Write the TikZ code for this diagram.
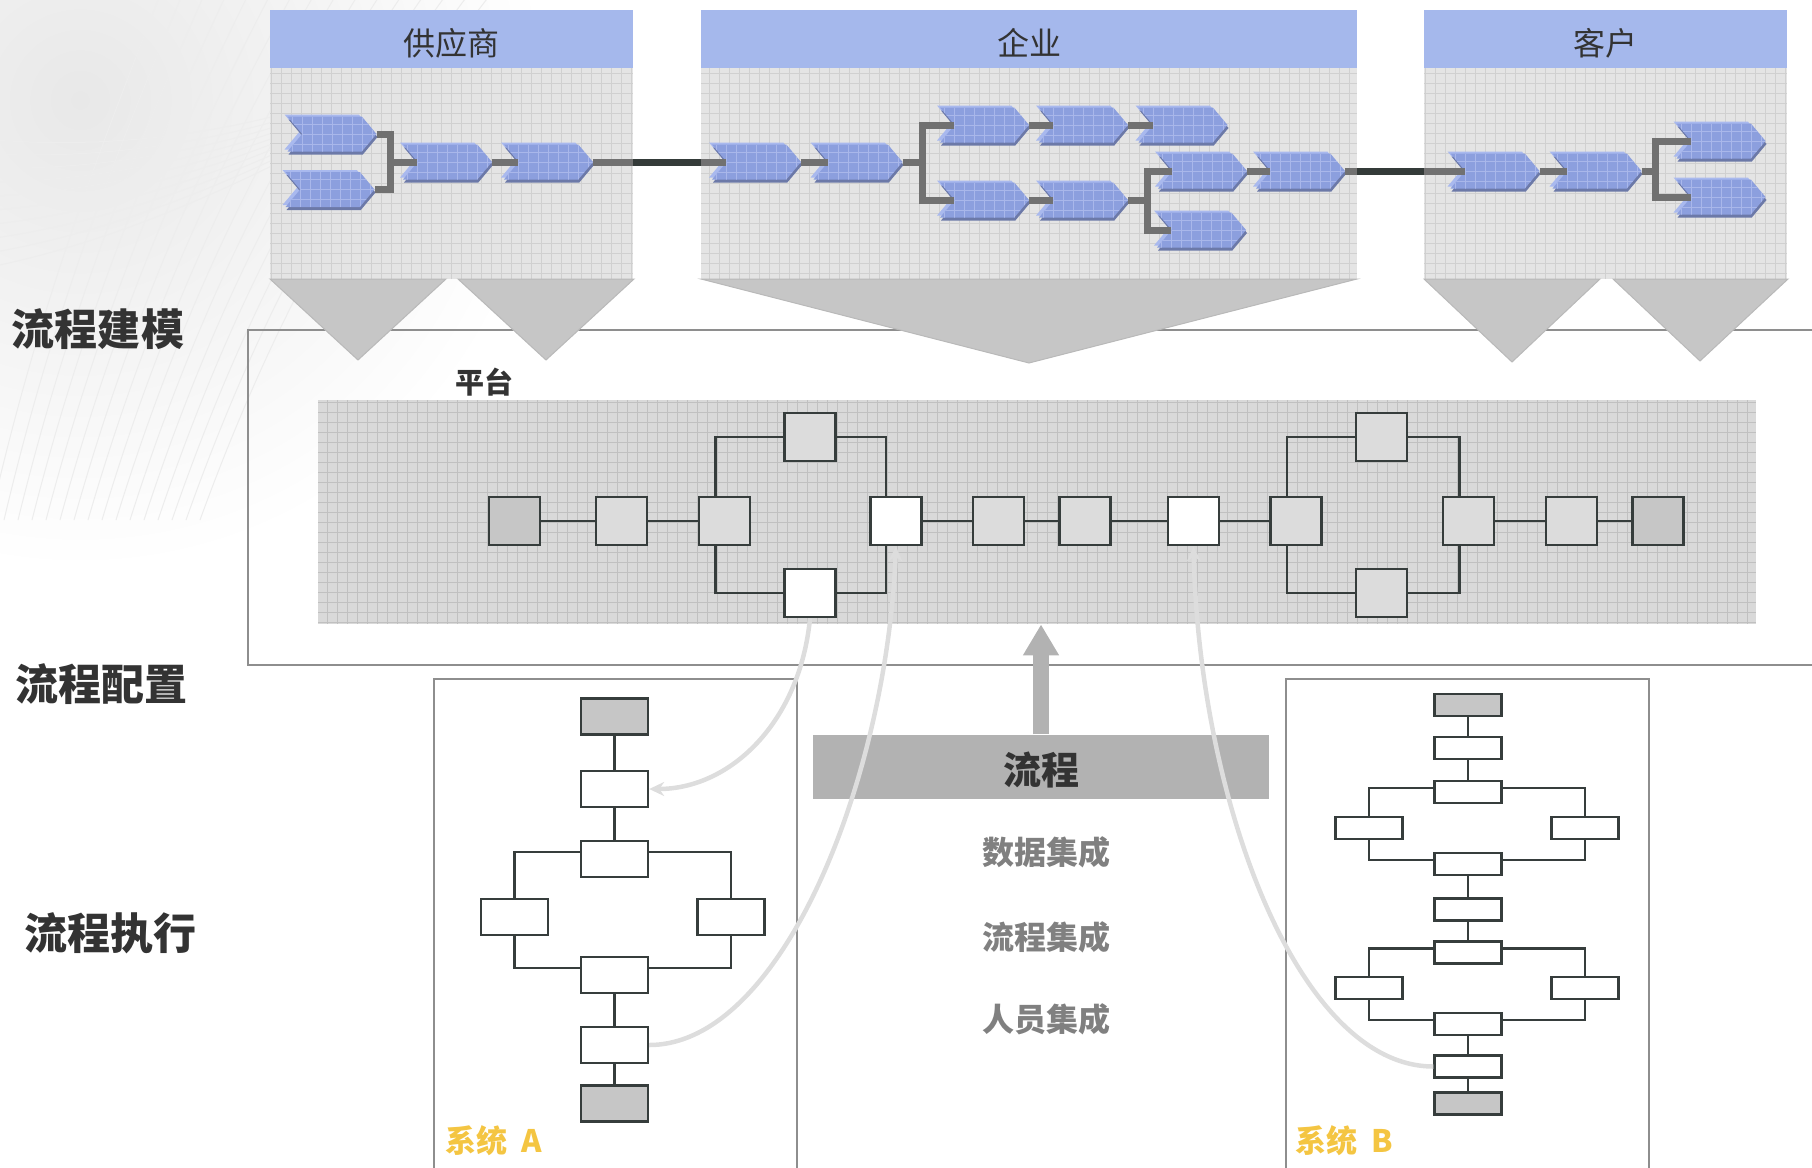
\documentclass[tikz,border=0pt]{standalone}
\usepackage{fontspec}
\newfontfamily\cjk{Noto Sans CJK SC}
\usetikzlibrary{arrows.meta,positioning,shapes.symbols,shadows,calc}

\definecolor{headblue}{HTML}{A5B8EC}
\definecolor{panelgray}{HTML}{E4E4E4}
\definecolor{panelline}{HTML}{D0D0D0}
\definecolor{funnelgray}{HTML}{C6C6C6}
\definecolor{funneledge}{HTML}{B9B9B9}
\definecolor{chevblue}{HTML}{8C9FDE}
\definecolor{chevline}{HTML}{A9B7EA}
\definecolor{chevlight}{HTML}{A9B9EE}
\definecolor{chevdark}{HTML}{6C79A8}
\definecolor{conngray}{HTML}{717171}
\definecolor{bridgedark}{HTML}{343B39}
\definecolor{gridfill}{HTML}{D9D9D9}
\definecolor{gridline}{HTML}{C0C0C0}
\definecolor{framegray}{HTML}{8E8E8E}
\definecolor{inkline}{HTML}{363D3C}
\definecolor{boxfill}{HTML}{DCDCDC}
\definecolor{boxgray}{HTML}{C6C6C6}
\definecolor{feedgray}{HTML}{DDDDDD}
\definecolor{bargray}{HTML}{B2B2B2}
\definecolor{sysyellow}{HTML}{F4C542}
\definecolor{midgray}{HTML}{808080}
\definecolor{inkdark}{HTML}{333333}

\begin{document}
\begin{tikzpicture}[
    x=1pt, y=-1pt,
    >=Stealth,
    line join=miter,
    header/.style={
        fill=headblue,
        minimum height=58pt,
        anchor=north west,
        inner sep=0
    },
    headtext/.style={yshift=-4pt, text=inkdark, font=\cjk\fontsize{32}{36}\selectfont},
    panelbody/.style={
        fill=panelgray,
        minimum height=211pt,
        anchor=north west,
        inner sep=0,
        path picture={\draw[panelline, line width=0.8pt, step=10pt]
            (path picture bounding box.south west) grid (path picture bounding box.north east);}
    },
    funnel/.style={fill=funnelgray, draw=funneledge, line width=1pt},
    stage/.style={
        signal,
        signal to=east,
        signal from=west,
        signal pointer angle=100,
        minimum width=89pt,
        minimum height=35pt,
        inner sep=0,
        fill=chevblue,
        copy shadow={shadow xshift=-3pt, shadow yshift=2pt, fill=chevlight, draw=none},
        copy shadow={shadow xshift=1pt, shadow yshift=-3pt, fill=chevdark, draw=none},
        path picture={\draw[chevline, line width=0.9pt, step=10pt]
            (path picture bounding box.south west) grid (path picture bounding box.north east);}
    },
    conn/.style={draw=conngray, line width=7pt},
    bridge/.style={draw=bridgedark, line width=7pt},
    frame/.style={draw=framegray, line width=2pt, anchor=north west, inner sep=0},
    pgridbox/.style={
        fill=gridfill,
        anchor=north west,
        inner sep=0,
        path picture={\draw[gridline, line width=0.8pt, step=10pt]
            (path picture bounding box.south west) grid (path picture bounding box.north east);}
    },
    pbox/.style={
        draw=inkline,
        line width=2.8pt,
        fill=boxfill,
        minimum width=51pt,
        minimum height=48pt,
        inner sep=0
    },
    pend/.style={pbox, fill=boxgray},
    pnew/.style={pbox, fill=white},
    link/.style={draw=inkline, line width=2.4pt},
    sbox/.style={
        draw=inkline,
        line width=2.3pt,
        fill=white,
        minimum width=67pt,
        minimum height=36pt,
        inner sep=0
    },
    sboxgray/.style={sbox, fill=boxgray},
    tbox/.style={sbox, minimum height=22pt},
    tboxgray/.style={tbox, fill=boxgray},
    slink/.style={draw=inkline, line width=2.3pt},
    feed/.style={draw=feedgray, line width=4.5pt},
    feedtip/.tip={Stealth[length=15pt, width=14pt]},
    lift/.style={draw=bargray, line width=16pt, -{Triangle[length=31pt, width=34pt]}},
    flowbar/.style={
        fill=bargray,
        minimum width=456pt,
        minimum height=64pt,
        inner sep=0
    },
    bartext/.style={yshift=-3.5pt, text=inkdark, font=\cjk\bfseries\fontsize{38}{42}\selectfont},
    sidelabel/.style={text=inkdark, font=\cjk\bfseries\fontsize{43}{48}\selectfont},
    platlabel/.style={text=inkdark, font=\cjk\bfseries\fontsize{29}{32}\selectfont},
    intlabel/.style={text=midgray, font=\cjk\bfseries\fontsize{32}{36}\selectfont},
    syslabel/.style={text=sysyellow, anchor=west, inner sep=0, font=\cjk\bfseries\fontsize{31}{34}\selectfont},
    wisp/.style={draw=black!7, line width=1pt}
]
\useasboundingbox (0,0) rectangle (1812,1167);
\clip (0,0) rectangle (1812,1167);

% =========================
% Backdrop
% =========================
\shade[inner color=black!9, outer color=white] (80,100) circle (470);
\foreach \k in {0,...,15}
    \draw[wisp] (\k*14-10,520) .. controls (\k*16+40,300) and (\k*18+100,150) .. (\k*22+160,-5);
\foreach \k in {0,...,9}
    \draw[wisp] (-5,140+\k*14) .. controls (120,150+\k*10) and (240,130+\k*6) .. (330,100+\k*4);

% =========================
% Platform frame
% =========================
\node[frame, minimum width=1600pt, minimum height=335pt] (platbox) at (247,329) {};

% =========================
% Modelling panels
% =========================
\node[header, minimum width=363pt, label={[headtext]center:供应商}] (suphead) at (270,10) {};
\node[panelbody, minimum width=363pt] (supbody) at (270,68) {};
\node[header, minimum width=656pt, label={[headtext]center:企业}] (enthead) at (701,10) {};
\node[panelbody, minimum width=656pt] (entbody) at (701,68) {};
\node[header, minimum width=363pt, label={[headtext]center:客户}] (cushead) at (1424,10) {};
\node[panelbody, minimum width=363pt] (cusbody) at (1424,68) {};

\fill[funnel] (270,279) -- (446,279) -- (358,360) -- cycle;
\fill[funnel] (458,279) -- (634,279) -- (546,360) -- cycle;
\fill[funnel] (701,279) -- (1357,279) -- (1029,363) -- cycle;
\fill[funnel] (1424,279) -- (1600,279) -- (1512,362) -- cycle;
\fill[funnel] (1613,279) -- (1788,279) -- (1700,361) -- cycle;

% supplier stages
\node[stage] (s1) at (332,134) {};
\node[stage] (s2) at (330,189.5) {};
\node[stage] (s3) at (447.5,162) {};
\node[stage] (s4) at (548.5,162) {};
\coordinate (sj) at (390,162);

% enterprise stages
\node[stage] (e1) at (756.5,162) {};
\node[stage] (e2) at (858,162) {};
\node[stage] (e3) at (984.5,125) {};
\node[stage] (e4) at (1083.5,125) {};
\node[stage] (e5) at (1183,125) {};
\node[stage] (e6) at (984.5,200) {};
\node[stage] (e7) at (1083.5,200) {};
\node[stage] (e8) at (1202.5,171) {};
\node[stage] (e9) at (1300.5,171) {};
\node[stage] (e10) at (1201.5,230) {};
\coordinate (ej1) at (922,162);
\coordinate (ej2) at (1147,200);

% customer stages
\node[stage] (k1) at (1495,171) {};
\node[stage] (k2) at (1597,171) {};
\node[stage] (k3) at (1721,141) {};
\node[stage] (k4) at (1721,197) {};
\coordinate (kj) at (1655,171);

\draw[conn] (s1.east) -| (sj) |- (s2.east);
\draw[conn] (sj) -- (s3.west);
\draw[conn] (s3.east) -- (s4.west);
\draw[conn] (s4.east) -- (s4.east -| supbody.east);
\draw[bridge] (s4.east -| supbody.east) -- (e1.west -| entbody.west);
\draw[conn] (e1.west -| entbody.west) -- (e1.west);

\draw[conn] (e1.east) -- (e2.west);
\draw[conn] (e2.east) -- (ej1);
\draw[conn] (e3.west) -| (ej1) |- (e6.west);
\draw[conn] (e3.east) -- (e4.west);
\draw[conn] (e4.east) -- (e5.west);
\draw[conn] (e6.east) -- (e7.west);
\draw[conn] (e7.east) -- (ej2);
\draw[conn] (e8.west) -| (ej2) |- (e10.west);
\draw[conn] (e8.east) -- (e9.west);
\draw[conn] (e9.east) -- (e9.east -| entbody.east);
\draw[bridge] (e9.east -| entbody.east) -- (k1.west -| cusbody.west);
\draw[conn] (k1.west -| cusbody.west) -- (k1.west);

\draw[conn] (k1.east) -- (k2.west);
\draw[conn] (k2.east) -- (kj);
\draw[conn] (k3.west) -| (kj) |- (k4.west);

% =========================
% Platform
% =========================
\node[platlabel] (platname) at (484,382) {平台};
\node[pgridbox, minimum width=1438pt, minimum height=224pt] (pgrid) at (318,400) {};

\node[pend] (p1) at (514.5,521) {};
\node[pbox] (p2) at (621.5,521) {};
\node[pbox] (p3) at (724.5,521) {};
\node[pbox] (ptop1) at (810,437) {};
\node[pnew] (pbot1) at (810,593) {};
\node[pnew] (pw1) at (896,521) {};
\node[pbox] (p5) at (998.5,521) {};
\node[pbox] (p6) at (1085,521) {};
\node[pnew] (pw2) at (1193.5,521) {};
\node[pbox] (p7) at (1296,521) {};
\node[pbox] (ptop2) at (1381.5,437) {};
\node[pbox] (pbot2) at (1381.5,593) {};
\node[pbox] (p8) at (1468.5,521) {};
\node[pbox] (p9) at (1571.5,521) {};
\node[pend] (p10) at (1658,521) {};

\draw[link] (p1) -- (p2);
\draw[link] (p2) -- (p3);
\draw[link] ([xshift=-9pt]p3.north) |- (ptop1.west);
\draw[link] ([xshift=-9pt]p3.south) |- (pbot1.west);
\draw[link] (ptop1.east) -| ([xshift=-10pt]pw1.north);
\draw[link] (pbot1.east) -| ([xshift=-10pt]pw1.south);
\draw[link] (pw1) -- (p5);
\draw[link] (p5) -- (p6);
\draw[link] (p6) -- (pw2);
\draw[link] (pw2) -- (p7);
\draw[link] ([xshift=-9pt]p7.north) |- (ptop2.west);
\draw[link] ([xshift=-9pt]p7.south) |- (pbot2.west);
\draw[link] (ptop2.east) -| ([xshift=-9pt]p8.north);
\draw[link] (pbot2.east) -| ([xshift=-9pt]p8.south);
\draw[link] (p8) -- (p9);
\draw[link] (p9) -- (p10);

% =========================
% Systems
% =========================
\node[frame, minimum width=363pt, minimum height=540pt] (sysA) at (433,678) {};
\node[frame, minimum width=363pt, minimum height=540pt] (sysB) at (1285,678) {};

\node[sboxgray] (A1) at (614.5,716.5) {};
\node[sbox] (A2) at (614.5,789) {};
\node[sbox] (A3) at (614.5,859) {};
\node[sbox] (A4) at (514.5,917) {};
\node[sbox] (A5) at (731,917) {};
\node[sbox] (A6) at (614.5,975) {};
\node[sbox] (A7) at (614.5,1045) {};
\node[sboxgray] (A8) at (614.5,1103.5) {};

\draw[slink] (A1) -- (A2);
\draw[slink] (A2) -- (A3);
\draw[slink] ([yshift=7pt]A3.west) -| (A4.north);
\draw[slink] ([yshift=7pt]A3.east) -| (A5.north);
\draw[slink] (A4.south) |- ([yshift=7pt]A6.west);
\draw[slink] (A5.south) |- ([yshift=7pt]A6.east);
\draw[slink] (A6) -- (A7);
\draw[slink] (A7) -- (A8);

\node[tboxgray] (B1) at (1468,705) {};
\node[tbox] (B2) at (1468,748) {};
\node[tbox] (B3) at (1468,792) {};
\node[tbox] (B4) at (1369,828) {};
\node[tbox] (B5) at (1585,828) {};
\node[tbox] (B6) at (1468,864) {};
\node[tbox] (B7) at (1468,909.5) {};
\node[tbox] (B8) at (1468,952.5) {};
\node[tbox] (B9) at (1369,988) {};
\node[tbox] (B10) at (1585,988) {};
\node[tbox] (B11) at (1468,1024) {};
\node[tbox] (B12) at (1468,1066.5) {};
\node[tboxgray] (B13) at (1468,1103.5) {};

\draw[slink] (B1) -- (B2);
\draw[slink] (B2) -- (B3);
\draw[slink] ([yshift=4pt]B3.west) -| (B4.north);
\draw[slink] ([yshift=4pt]B3.east) -| (B5.north);
\draw[slink] (B4.south) |- ([yshift=4pt]B6.west);
\draw[slink] (B5.south) |- ([yshift=4pt]B6.east);
\draw[slink] (B6) -- (B7);
\draw[slink] (B7) -- (B8);
\draw[slink] ([yshift=4pt]B8.west) -| (B9.north);
\draw[slink] ([yshift=4pt]B8.east) -| (B10.north);
\draw[slink] (B9.south) |- ([yshift=4pt]B11.west);
\draw[slink] (B10.south) |- ([yshift=4pt]B11.east);
\draw[slink] (B11) -- (B12);
\draw[slink] (B12) -- (B13);

\node[syslabel] (sysAname) at (445,1141) {系统~~A};
\node[syslabel] (sysBname) at (1295,1141) {系统~~B};

% =========================
% Integration layer
% =========================
\node[flowbar, label={[bartext]center:流程}] (flowbar) at (1041,766.5) {};
\draw[lift] (flowbar.north) -- (flowbar.north |- pgrid.south);
\node[intlabel] (intdata) at (1046,852) {数据集成};
\node[intlabel] (intproc) at (1046,937) {流程集成};
\node[intlabel] (intstaff) at (1046,1019) {人员集成};

% =========================
% Side labels
% =========================
\node[sidelabel] (stagemodel) at (98,329) {流程建模};
\node[sidelabel] (stageconfig) at (101,684) {流程配置};
\node[sidelabel] (stageexec) at (110,933) {流程执行};

% =========================
% Mapping curves
% =========================
\draw[feed, -feedtip] (pbot1.south) .. controls +(-10,103) and +(82,0) .. (A2.east);
\draw[feed, feedtip-] (pw1.south) .. controls +(-10,235) and +(132,0) .. (A7.east);
\draw[feed, feedtip-] (pw2.south) .. controls +(6,255) and +(-135,0) .. (B12.west);

\end{tikzpicture}
\end{document}
